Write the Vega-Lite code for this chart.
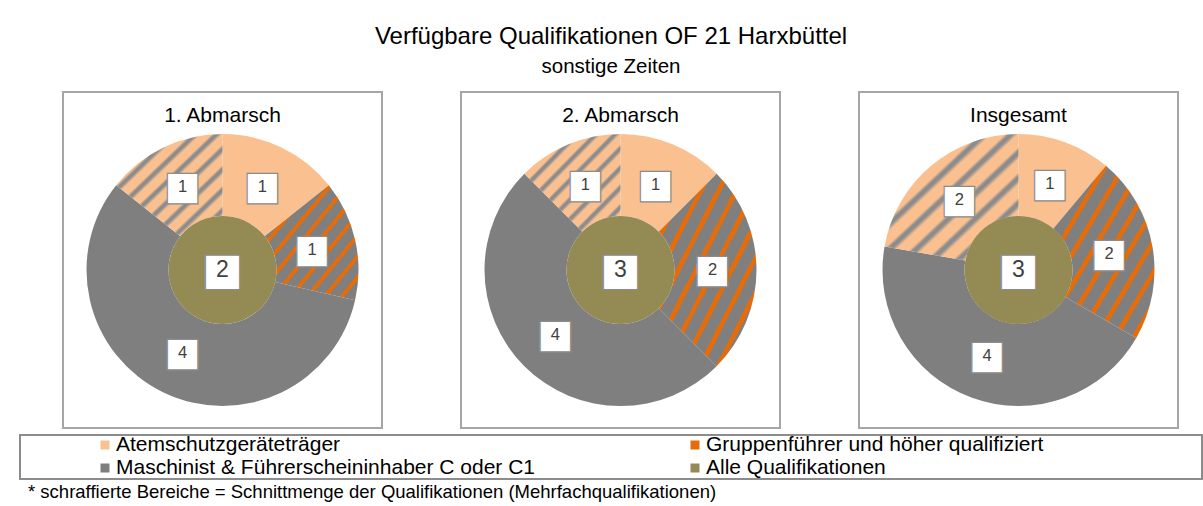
{
  "$schema": "https://vega.github.io/schema/vega-lite/v6.json",
  "padding": {"left": 19, "top": 24, "right": 0, "bottom": 0},
  "background": "#FFFFFF",
  "title": {
    "text": "Verfügbare Qualifikationen OF 21 Harxbüttel",
    "subtitle": "sonstige Zeiten",
    "fontSize": 24,
    "subtitleFontSize": 20.5,
    "subtitlePadding": 8,
    "font": "Liberation Sans",
    "subtitleFont": "Liberation Sans",
    "fontWeight": "normal",
    "color": "#000000",
    "subtitleColor": "#000000",
    "anchor": "middle",
    "offset": 14
  },
  "datasets": {
    "pies": [
      {"chart": "1. Abmarsch", "ring": "outer", "seg": "Atemschutzgeräteträger", "order": 1, "value": 1},
      {"chart": "1. Abmarsch", "ring": "outer", "seg": "Gruppenführer & Maschinist", "order": 2, "value": 1},
      {"chart": "1. Abmarsch", "ring": "outer", "seg": "Maschinist & Führerscheininhaber C oder C1", "order": 3, "value": 4},
      {"chart": "1. Abmarsch", "ring": "outer", "seg": "Atemschutzgeräteträger & Maschinist", "order": 4, "value": 1},
      {"chart": "1. Abmarsch", "ring": "center", "seg": "Alle Qualifikationen", "order": 5, "value": 2},
      {"chart": "2. Abmarsch", "ring": "outer", "seg": "Atemschutzgeräteträger", "order": 1, "value": 1},
      {"chart": "2. Abmarsch", "ring": "outer", "seg": "Gruppenführer & Maschinist", "order": 2, "value": 2},
      {"chart": "2. Abmarsch", "ring": "outer", "seg": "Maschinist & Führerscheininhaber C oder C1", "order": 3, "value": 4},
      {"chart": "2. Abmarsch", "ring": "outer", "seg": "Atemschutzgeräteträger & Maschinist", "order": 4, "value": 1},
      {"chart": "2. Abmarsch", "ring": "center", "seg": "Alle Qualifikationen", "order": 5, "value": 3},
      {"chart": "Insgesamt", "ring": "outer", "seg": "Atemschutzgeräteträger", "order": 1, "value": 1},
      {"chart": "Insgesamt", "ring": "outer", "seg": "Gruppenführer & Maschinist", "order": 2, "value": 2},
      {"chart": "Insgesamt", "ring": "outer", "seg": "Maschinist & Führerscheininhaber C oder C1", "order": 3, "value": 4},
      {"chart": "Insgesamt", "ring": "outer", "seg": "Atemschutzgeräteträger & Maschinist", "order": 4, "value": 2},
      {"chart": "Insgesamt", "ring": "center", "seg": "Alle Qualifikationen", "order": 5, "value": 3}
    ],
    "legend": [
      {"label": "Atemschutzgeräteträger", "col": 1, "row": 1},
      {"label": "Gruppenführer und höher qualifiziert", "col": 2, "row": 1},
      {"label": "Maschinist & Führerscheininhaber C oder C1", "col": 1, "row": 2},
      {"label": "Alle Qualifikationen", "col": 2, "row": 2}
    ]
  },
  "spacing": 4,
  "vconcat": [
    {
      "spacing": 0,
      "hconcat": [
        {
          "width": 42,
          "height": 336,
          "data": {"values": [{"spacer": 1}]},
          "mark": {"type": "point", "opacity": 0},
          "view": {"stroke": null}
        },
        {
          "spacing": 77,
          "hconcat": [
            {
              "width": 319,
              "height": 336,
              "view": {"stroke": "#A6A6A6", "strokeWidth": 2},
              "title": {"text": "1. Abmarsch", "offset": -34, "fontSize": 21, "fontWeight": "normal", "font": "Liberation Sans", "color": "#000000", "anchor": "middle"},
              "data": {"name": "pies"},
              "transform": [{"filter": "datum.chart === '1. Abmarsch'"}],
              "layer": [
                {
                  "transform": [{"filter": "datum.ring === 'outer'"}],
                  "mark": {"type": "arc", "outerRadius": 136, "innerRadius": 54, "yOffset": 10},
                  "encoding": {
                    "theta": {"field": "value", "type": "quantitative", "stack": "normalize"},
                    "order": {"field": "order", "type": "quantitative"},
                    "fill": {
                      "condition": [
                        {"test": "datum.seg === 'Atemschutzgeräteträger'", "value": "#FAC090"},
                        {"test": "datum.seg === 'Gruppenführer & Maschinist'", "value": {"gradient": "linear", "x1": 0, "y1": 0, "x2": 1, "y2": 1, "stops": [
                          {"offset": 0, "color": "#7F7F7F"}, {"offset": 0.0636, "color": "#7F7F7F"}, {"offset": 0.0636, "color": "#E46C0A"}, {"offset": 0.0909, "color": "#E46C0A"},
                          {"offset": 0.0909, "color": "#7F7F7F"}, {"offset": 0.1545, "color": "#7F7F7F"}, {"offset": 0.1545, "color": "#E46C0A"}, {"offset": 0.1818, "color": "#E46C0A"},
                          {"offset": 0.1818, "color": "#7F7F7F"}, {"offset": 0.2455, "color": "#7F7F7F"}, {"offset": 0.2455, "color": "#E46C0A"}, {"offset": 0.2727, "color": "#E46C0A"},
                          {"offset": 0.2727, "color": "#7F7F7F"}, {"offset": 0.3364, "color": "#7F7F7F"}, {"offset": 0.3364, "color": "#E46C0A"}, {"offset": 0.3636, "color": "#E46C0A"},
                          {"offset": 0.3636, "color": "#7F7F7F"}, {"offset": 0.4273, "color": "#7F7F7F"}, {"offset": 0.4273, "color": "#E46C0A"}, {"offset": 0.4545, "color": "#E46C0A"},
                          {"offset": 0.4545, "color": "#7F7F7F"}, {"offset": 0.5182, "color": "#7F7F7F"}, {"offset": 0.5182, "color": "#E46C0A"}, {"offset": 0.5455, "color": "#E46C0A"},
                          {"offset": 0.5455, "color": "#7F7F7F"}, {"offset": 0.6091, "color": "#7F7F7F"}, {"offset": 0.6091, "color": "#E46C0A"}, {"offset": 0.6364, "color": "#E46C0A"},
                          {"offset": 0.6364, "color": "#7F7F7F"}, {"offset": 0.7, "color": "#7F7F7F"}, {"offset": 0.7, "color": "#E46C0A"}, {"offset": 0.7273, "color": "#E46C0A"},
                          {"offset": 0.7273, "color": "#7F7F7F"}, {"offset": 0.7909, "color": "#7F7F7F"}, {"offset": 0.7909, "color": "#E46C0A"}, {"offset": 0.8182, "color": "#E46C0A"},
                          {"offset": 0.8182, "color": "#7F7F7F"}, {"offset": 0.8818, "color": "#7F7F7F"}, {"offset": 0.8818, "color": "#E46C0A"}, {"offset": 0.9091, "color": "#E46C0A"},
                          {"offset": 0.9091, "color": "#7F7F7F"}, {"offset": 0.9727, "color": "#7F7F7F"}, {"offset": 0.9727, "color": "#E46C0A"}, {"offset": 1, "color": "#E46C0A"}
                        ]}},
                        {"test": "datum.seg === 'Atemschutzgeräteträger & Maschinist'", "value": {"gradient": "linear", "x1": 0, "y1": 0, "x2": 1, "y2": 1, "stops": [
                          {"offset": 0, "color": "#FAC090"}, {"offset": 0.05, "color": "#FAC090"}, {"offset": 0.066, "color": "#8C8C8C"}, {"offset": 0.08, "color": "#8C8C8C"},
                          {"offset": 0.1, "color": "#FAC090"}, {"offset": 0.15, "color": "#FAC090"}, {"offset": 0.166, "color": "#8C8C8C"}, {"offset": 0.18, "color": "#8C8C8C"},
                          {"offset": 0.2, "color": "#FAC090"}, {"offset": 0.25, "color": "#FAC090"}, {"offset": 0.266, "color": "#8C8C8C"}, {"offset": 0.28, "color": "#8C8C8C"},
                          {"offset": 0.3, "color": "#FAC090"}, {"offset": 0.35, "color": "#FAC090"}, {"offset": 0.366, "color": "#8C8C8C"}, {"offset": 0.38, "color": "#8C8C8C"},
                          {"offset": 0.4, "color": "#FAC090"}, {"offset": 0.45, "color": "#FAC090"}, {"offset": 0.466, "color": "#8C8C8C"}, {"offset": 0.48, "color": "#8C8C8C"},
                          {"offset": 0.5, "color": "#FAC090"}, {"offset": 0.55, "color": "#FAC090"}, {"offset": 0.566, "color": "#8C8C8C"}, {"offset": 0.58, "color": "#8C8C8C"},
                          {"offset": 0.6, "color": "#FAC090"}, {"offset": 0.65, "color": "#FAC090"}, {"offset": 0.666, "color": "#8C8C8C"}, {"offset": 0.68, "color": "#8C8C8C"},
                          {"offset": 0.7, "color": "#FAC090"}, {"offset": 0.75, "color": "#FAC090"}, {"offset": 0.766, "color": "#8C8C8C"}, {"offset": 0.78, "color": "#8C8C8C"},
                          {"offset": 0.8, "color": "#FAC090"}, {"offset": 0.85, "color": "#FAC090"}, {"offset": 0.866, "color": "#8C8C8C"}, {"offset": 0.88, "color": "#8C8C8C"},
                          {"offset": 0.9, "color": "#FAC090"}, {"offset": 0.95, "color": "#FAC090"}, {"offset": 0.966, "color": "#8C8C8C"}, {"offset": 0.98, "color": "#8C8C8C"},
                          {"offset": 1, "color": "#FAC090"}
                        ]}}
                      ],
                      "value": "#7F7F7F"
                    }
                  }
                },
                {
                  "transform": [{"filter": "datum.ring === 'outer'"}],
                  "mark": {"type": "text", "text": "■", "radius": 92, "font": "DejaVu Sans", "fontSize": 40, "fill": "#FFFFFF", "stroke": "#8C8C8C", "strokeWidth": 1.2, "align": "center", "baseline": "middle", "yOffset": 10},
                  "encoding": {
                    "theta": {"field": "value", "type": "quantitative", "stack": "normalize"},
                    "order": {"field": "order", "type": "quantitative"}
                  }
                },
                {
                  "transform": [{"filter": "datum.ring === 'outer'"}],
                  "mark": {"type": "text", "radius": 92, "font": "Liberation Sans", "fontSize": 16.5, "color": "#404040", "align": "center", "baseline": "middle", "yOffset": 10},
                  "encoding": {
                    "theta": {"field": "value", "type": "quantitative", "stack": "normalize"},
                    "order": {"field": "order", "type": "quantitative"},
                    "text": {"field": "value", "type": "quantitative"}
                  }
                },
                {
                  "transform": [{"filter": "datum.ring === 'center'"}],
                  "mark": {"type": "arc", "outerRadius": 54, "innerRadius": 0, "theta": 0, "theta2": 6.2832, "fill": "#948A54", "yOffset": 10},
                  "encoding": {}
                },
                {
                  "transform": [{"filter": "datum.ring === 'center'"}],
                  "mark": {"type": "text", "text": "■", "font": "DejaVu Sans", "fontSize": 45, "fill": "#FFFFFF", "stroke": "#8C8C8C", "strokeWidth": 1.2, "align": "center", "baseline": "middle", "yOffset": 10},
                  "encoding": {}
                },
                {
                  "transform": [{"filter": "datum.ring === 'center'"}],
                  "mark": {"type": "text", "font": "Liberation Sans", "fontSize": 23, "color": "#404040", "align": "center", "baseline": "middle", "yOffset": 10},
                  "encoding": {"text": {"field": "value", "type": "quantitative"}}
                }
              ]
            },
            {
              "width": 319,
              "height": 336,
              "view": {"stroke": "#A6A6A6", "strokeWidth": 2},
              "title": {"text": "2. Abmarsch", "offset": -34, "fontSize": 21, "fontWeight": "normal", "font": "Liberation Sans", "color": "#000000", "anchor": "middle"},
              "data": {"name": "pies"},
              "transform": [{"filter": "datum.chart === '2. Abmarsch'"}],
              "layer": [
                {
                  "transform": [{"filter": "datum.ring === 'outer'"}],
                  "mark": {"type": "arc", "outerRadius": 136, "innerRadius": 54, "yOffset": 10},
                  "encoding": {
                    "theta": {"field": "value", "type": "quantitative", "stack": "normalize"},
                    "order": {"field": "order", "type": "quantitative"},
                    "fill": {
                      "condition": [
                        {"test": "datum.seg === 'Atemschutzgeräteträger'", "value": "#FAC090"},
                        {"test": "datum.seg === 'Gruppenführer & Maschinist'", "value": {"gradient": "linear", "x1": 0, "y1": 0, "x2": 1, "y2": 1, "stops": [
                          {"offset": 0, "color": "#7F7F7F"}, {"offset": 0.0636, "color": "#7F7F7F"}, {"offset": 0.0636, "color": "#E46C0A"}, {"offset": 0.0909, "color": "#E46C0A"},
                          {"offset": 0.0909, "color": "#7F7F7F"}, {"offset": 0.1545, "color": "#7F7F7F"}, {"offset": 0.1545, "color": "#E46C0A"}, {"offset": 0.1818, "color": "#E46C0A"},
                          {"offset": 0.1818, "color": "#7F7F7F"}, {"offset": 0.2455, "color": "#7F7F7F"}, {"offset": 0.2455, "color": "#E46C0A"}, {"offset": 0.2727, "color": "#E46C0A"},
                          {"offset": 0.2727, "color": "#7F7F7F"}, {"offset": 0.3364, "color": "#7F7F7F"}, {"offset": 0.3364, "color": "#E46C0A"}, {"offset": 0.3636, "color": "#E46C0A"},
                          {"offset": 0.3636, "color": "#7F7F7F"}, {"offset": 0.4273, "color": "#7F7F7F"}, {"offset": 0.4273, "color": "#E46C0A"}, {"offset": 0.4545, "color": "#E46C0A"},
                          {"offset": 0.4545, "color": "#7F7F7F"}, {"offset": 0.5182, "color": "#7F7F7F"}, {"offset": 0.5182, "color": "#E46C0A"}, {"offset": 0.5455, "color": "#E46C0A"},
                          {"offset": 0.5455, "color": "#7F7F7F"}, {"offset": 0.6091, "color": "#7F7F7F"}, {"offset": 0.6091, "color": "#E46C0A"}, {"offset": 0.6364, "color": "#E46C0A"},
                          {"offset": 0.6364, "color": "#7F7F7F"}, {"offset": 0.7, "color": "#7F7F7F"}, {"offset": 0.7, "color": "#E46C0A"}, {"offset": 0.7273, "color": "#E46C0A"},
                          {"offset": 0.7273, "color": "#7F7F7F"}, {"offset": 0.7909, "color": "#7F7F7F"}, {"offset": 0.7909, "color": "#E46C0A"}, {"offset": 0.8182, "color": "#E46C0A"},
                          {"offset": 0.8182, "color": "#7F7F7F"}, {"offset": 0.8818, "color": "#7F7F7F"}, {"offset": 0.8818, "color": "#E46C0A"}, {"offset": 0.9091, "color": "#E46C0A"},
                          {"offset": 0.9091, "color": "#7F7F7F"}, {"offset": 0.9727, "color": "#7F7F7F"}, {"offset": 0.9727, "color": "#E46C0A"}, {"offset": 1, "color": "#E46C0A"}
                        ]}},
                        {"test": "datum.seg === 'Atemschutzgeräteträger & Maschinist'", "value": {"gradient": "linear", "x1": 0, "y1": 0, "x2": 1, "y2": 1, "stops": [
                          {"offset": 0, "color": "#FAC090"}, {"offset": 0.05, "color": "#FAC090"}, {"offset": 0.066, "color": "#8C8C8C"}, {"offset": 0.08, "color": "#8C8C8C"},
                          {"offset": 0.1, "color": "#FAC090"}, {"offset": 0.15, "color": "#FAC090"}, {"offset": 0.166, "color": "#8C8C8C"}, {"offset": 0.18, "color": "#8C8C8C"},
                          {"offset": 0.2, "color": "#FAC090"}, {"offset": 0.25, "color": "#FAC090"}, {"offset": 0.266, "color": "#8C8C8C"}, {"offset": 0.28, "color": "#8C8C8C"},
                          {"offset": 0.3, "color": "#FAC090"}, {"offset": 0.35, "color": "#FAC090"}, {"offset": 0.366, "color": "#8C8C8C"}, {"offset": 0.38, "color": "#8C8C8C"},
                          {"offset": 0.4, "color": "#FAC090"}, {"offset": 0.45, "color": "#FAC090"}, {"offset": 0.466, "color": "#8C8C8C"}, {"offset": 0.48, "color": "#8C8C8C"},
                          {"offset": 0.5, "color": "#FAC090"}, {"offset": 0.55, "color": "#FAC090"}, {"offset": 0.566, "color": "#8C8C8C"}, {"offset": 0.58, "color": "#8C8C8C"},
                          {"offset": 0.6, "color": "#FAC090"}, {"offset": 0.65, "color": "#FAC090"}, {"offset": 0.666, "color": "#8C8C8C"}, {"offset": 0.68, "color": "#8C8C8C"},
                          {"offset": 0.7, "color": "#FAC090"}, {"offset": 0.75, "color": "#FAC090"}, {"offset": 0.766, "color": "#8C8C8C"}, {"offset": 0.78, "color": "#8C8C8C"},
                          {"offset": 0.8, "color": "#FAC090"}, {"offset": 0.85, "color": "#FAC090"}, {"offset": 0.866, "color": "#8C8C8C"}, {"offset": 0.88, "color": "#8C8C8C"},
                          {"offset": 0.9, "color": "#FAC090"}, {"offset": 0.95, "color": "#FAC090"}, {"offset": 0.966, "color": "#8C8C8C"}, {"offset": 0.98, "color": "#8C8C8C"},
                          {"offset": 1, "color": "#FAC090"}
                        ]}}
                      ],
                      "value": "#7F7F7F"
                    }
                  }
                },
                {
                  "transform": [{"filter": "datum.ring === 'outer'"}],
                  "mark": {"type": "text", "text": "■", "radius": 92, "font": "DejaVu Sans", "fontSize": 40, "fill": "#FFFFFF", "stroke": "#8C8C8C", "strokeWidth": 1.2, "align": "center", "baseline": "middle", "yOffset": 10},
                  "encoding": {
                    "theta": {"field": "value", "type": "quantitative", "stack": "normalize"},
                    "order": {"field": "order", "type": "quantitative"}
                  }
                },
                {
                  "transform": [{"filter": "datum.ring === 'outer'"}],
                  "mark": {"type": "text", "radius": 92, "font": "Liberation Sans", "fontSize": 16.5, "color": "#404040", "align": "center", "baseline": "middle", "yOffset": 10},
                  "encoding": {
                    "theta": {"field": "value", "type": "quantitative", "stack": "normalize"},
                    "order": {"field": "order", "type": "quantitative"},
                    "text": {"field": "value", "type": "quantitative"}
                  }
                },
                {
                  "transform": [{"filter": "datum.ring === 'center'"}],
                  "mark": {"type": "arc", "outerRadius": 54, "innerRadius": 0, "theta": 0, "theta2": 6.2832, "fill": "#948A54", "yOffset": 10},
                  "encoding": {}
                },
                {
                  "transform": [{"filter": "datum.ring === 'center'"}],
                  "mark": {"type": "text", "text": "■", "font": "DejaVu Sans", "fontSize": 45, "fill": "#FFFFFF", "stroke": "#8C8C8C", "strokeWidth": 1.2, "align": "center", "baseline": "middle", "yOffset": 10},
                  "encoding": {}
                },
                {
                  "transform": [{"filter": "datum.ring === 'center'"}],
                  "mark": {"type": "text", "font": "Liberation Sans", "fontSize": 23, "color": "#404040", "align": "center", "baseline": "middle", "yOffset": 10},
                  "encoding": {"text": {"field": "value", "type": "quantitative"}}
                }
              ]
            },
            {
              "width": 319,
              "height": 336,
              "view": {"stroke": "#A6A6A6", "strokeWidth": 2},
              "title": {"text": "Insgesamt", "offset": -34, "fontSize": 21, "fontWeight": "normal", "font": "Liberation Sans", "color": "#000000", "anchor": "middle"},
              "data": {"name": "pies"},
              "transform": [{"filter": "datum.chart === 'Insgesamt'"}],
              "layer": [
                {
                  "transform": [{"filter": "datum.ring === 'outer'"}],
                  "mark": {"type": "arc", "outerRadius": 136, "innerRadius": 54, "yOffset": 10},
                  "encoding": {
                    "theta": {"field": "value", "type": "quantitative", "stack": "normalize"},
                    "order": {"field": "order", "type": "quantitative"},
                    "fill": {
                      "condition": [
                        {"test": "datum.seg === 'Atemschutzgeräteträger'", "value": "#FAC090"},
                        {"test": "datum.seg === 'Gruppenführer & Maschinist'", "value": {"gradient": "linear", "x1": 0, "y1": 0, "x2": 1, "y2": 1, "stops": [
                          {"offset": 0, "color": "#7F7F7F"}, {"offset": 0.0636, "color": "#7F7F7F"}, {"offset": 0.0636, "color": "#E46C0A"}, {"offset": 0.0909, "color": "#E46C0A"},
                          {"offset": 0.0909, "color": "#7F7F7F"}, {"offset": 0.1545, "color": "#7F7F7F"}, {"offset": 0.1545, "color": "#E46C0A"}, {"offset": 0.1818, "color": "#E46C0A"},
                          {"offset": 0.1818, "color": "#7F7F7F"}, {"offset": 0.2455, "color": "#7F7F7F"}, {"offset": 0.2455, "color": "#E46C0A"}, {"offset": 0.2727, "color": "#E46C0A"},
                          {"offset": 0.2727, "color": "#7F7F7F"}, {"offset": 0.3364, "color": "#7F7F7F"}, {"offset": 0.3364, "color": "#E46C0A"}, {"offset": 0.3636, "color": "#E46C0A"},
                          {"offset": 0.3636, "color": "#7F7F7F"}, {"offset": 0.4273, "color": "#7F7F7F"}, {"offset": 0.4273, "color": "#E46C0A"}, {"offset": 0.4545, "color": "#E46C0A"},
                          {"offset": 0.4545, "color": "#7F7F7F"}, {"offset": 0.5182, "color": "#7F7F7F"}, {"offset": 0.5182, "color": "#E46C0A"}, {"offset": 0.5455, "color": "#E46C0A"},
                          {"offset": 0.5455, "color": "#7F7F7F"}, {"offset": 0.6091, "color": "#7F7F7F"}, {"offset": 0.6091, "color": "#E46C0A"}, {"offset": 0.6364, "color": "#E46C0A"},
                          {"offset": 0.6364, "color": "#7F7F7F"}, {"offset": 0.7, "color": "#7F7F7F"}, {"offset": 0.7, "color": "#E46C0A"}, {"offset": 0.7273, "color": "#E46C0A"},
                          {"offset": 0.7273, "color": "#7F7F7F"}, {"offset": 0.7909, "color": "#7F7F7F"}, {"offset": 0.7909, "color": "#E46C0A"}, {"offset": 0.8182, "color": "#E46C0A"},
                          {"offset": 0.8182, "color": "#7F7F7F"}, {"offset": 0.8818, "color": "#7F7F7F"}, {"offset": 0.8818, "color": "#E46C0A"}, {"offset": 0.9091, "color": "#E46C0A"},
                          {"offset": 0.9091, "color": "#7F7F7F"}, {"offset": 0.9727, "color": "#7F7F7F"}, {"offset": 0.9727, "color": "#E46C0A"}, {"offset": 1, "color": "#E46C0A"}
                        ]}},
                        {"test": "datum.seg === 'Atemschutzgeräteträger & Maschinist'", "value": {"gradient": "linear", "x1": 0, "y1": 0, "x2": 1, "y2": 1, "stops": [
                          {"offset": 0, "color": "#FAC090"}, {"offset": 0.05, "color": "#FAC090"}, {"offset": 0.066, "color": "#8C8C8C"}, {"offset": 0.08, "color": "#8C8C8C"},
                          {"offset": 0.1, "color": "#FAC090"}, {"offset": 0.15, "color": "#FAC090"}, {"offset": 0.166, "color": "#8C8C8C"}, {"offset": 0.18, "color": "#8C8C8C"},
                          {"offset": 0.2, "color": "#FAC090"}, {"offset": 0.25, "color": "#FAC090"}, {"offset": 0.266, "color": "#8C8C8C"}, {"offset": 0.28, "color": "#8C8C8C"},
                          {"offset": 0.3, "color": "#FAC090"}, {"offset": 0.35, "color": "#FAC090"}, {"offset": 0.366, "color": "#8C8C8C"}, {"offset": 0.38, "color": "#8C8C8C"},
                          {"offset": 0.4, "color": "#FAC090"}, {"offset": 0.45, "color": "#FAC090"}, {"offset": 0.466, "color": "#8C8C8C"}, {"offset": 0.48, "color": "#8C8C8C"},
                          {"offset": 0.5, "color": "#FAC090"}, {"offset": 0.55, "color": "#FAC090"}, {"offset": 0.566, "color": "#8C8C8C"}, {"offset": 0.58, "color": "#8C8C8C"},
                          {"offset": 0.6, "color": "#FAC090"}, {"offset": 0.65, "color": "#FAC090"}, {"offset": 0.666, "color": "#8C8C8C"}, {"offset": 0.68, "color": "#8C8C8C"},
                          {"offset": 0.7, "color": "#FAC090"}, {"offset": 0.75, "color": "#FAC090"}, {"offset": 0.766, "color": "#8C8C8C"}, {"offset": 0.78, "color": "#8C8C8C"},
                          {"offset": 0.8, "color": "#FAC090"}, {"offset": 0.85, "color": "#FAC090"}, {"offset": 0.866, "color": "#8C8C8C"}, {"offset": 0.88, "color": "#8C8C8C"},
                          {"offset": 0.9, "color": "#FAC090"}, {"offset": 0.95, "color": "#FAC090"}, {"offset": 0.966, "color": "#8C8C8C"}, {"offset": 0.98, "color": "#8C8C8C"},
                          {"offset": 1, "color": "#FAC090"}
                        ]}}
                      ],
                      "value": "#7F7F7F"
                    }
                  }
                },
                {
                  "transform": [{"filter": "datum.ring === 'outer'"}],
                  "mark": {"type": "text", "text": "■", "radius": 92, "font": "DejaVu Sans", "fontSize": 40, "fill": "#FFFFFF", "stroke": "#8C8C8C", "strokeWidth": 1.2, "align": "center", "baseline": "middle", "yOffset": 10},
                  "encoding": {
                    "theta": {"field": "value", "type": "quantitative", "stack": "normalize"},
                    "order": {"field": "order", "type": "quantitative"}
                  }
                },
                {
                  "transform": [{"filter": "datum.ring === 'outer'"}],
                  "mark": {"type": "text", "radius": 92, "font": "Liberation Sans", "fontSize": 16.5, "color": "#404040", "align": "center", "baseline": "middle", "yOffset": 10},
                  "encoding": {
                    "theta": {"field": "value", "type": "quantitative", "stack": "normalize"},
                    "order": {"field": "order", "type": "quantitative"},
                    "text": {"field": "value", "type": "quantitative"}
                  }
                },
                {
                  "transform": [{"filter": "datum.ring === 'center'"}],
                  "mark": {"type": "arc", "outerRadius": 54, "innerRadius": 0, "theta": 0, "theta2": 6.2832, "fill": "#948A54", "yOffset": 10},
                  "encoding": {}
                },
                {
                  "transform": [{"filter": "datum.ring === 'center'"}],
                  "mark": {"type": "text", "text": "■", "font": "DejaVu Sans", "fontSize": 45, "fill": "#FFFFFF", "stroke": "#8C8C8C", "strokeWidth": 1.2, "align": "center", "baseline": "middle", "yOffset": 10},
                  "encoding": {}
                },
                {
                  "transform": [{"filter": "datum.ring === 'center'"}],
                  "mark": {"type": "text", "font": "Liberation Sans", "fontSize": 23, "color": "#404040", "align": "center", "baseline": "middle", "yOffset": 10},
                  "encoding": {"text": {"field": "value", "type": "quantitative"}}
                }
              ]
            }
          ]
        }
      ]
    },
    {
      "width": 1182,
      "height": 44,
      "view": {"stroke": "#8C8C8C", "strokeWidth": 2},
      "data": {"name": "legend"},
      "title": {
        "text": "* schraffierte Bereiche = Schnittmenge der Qualifikationen (Mehrfachqualifikationen)",
        "orient": "bottom",
        "anchor": "start",
        "fontSize": 18.5,
        "fontWeight": "normal",
        "font": "Liberation Sans",
        "color": "#000000",
        "offset": 4,
        "dx": 8
      },
      "encoding": {
        "x": {"field": "col", "type": "ordinal", "scale": {"type": "point", "range": [85, 675], "padding": 0}, "axis": null},
        "y": {"field": "row", "type": "ordinal", "scale": {"type": "point", "range": [10, 33], "padding": 0}, "axis": null}
      },
      "layer": [
        {
          "mark": {"type": "square", "size": 81, "opacity": 1},
          "encoding": {
            "color": {
              "field": "label",
              "type": "nominal",
              "scale": {
                "domain": ["Atemschutzgeräteträger", "Gruppenführer und höher qualifiziert", "Maschinist & Führerscheininhaber C oder C1", "Alle Qualifikationen"],
                "range": ["#FAC090", "#E46C0A", "#7F7F7F", "#948A54"]
              },
              "legend": null
            }
          }
        },
        {
          "mark": {"type": "text", "align": "left", "baseline": "middle", "dx": 11, "fontSize": 21, "font": "Liberation Sans", "color": "#000000"},
          "encoding": {"text": {"field": "label", "type": "nominal"}}
        }
      ]
    }
  ],
  "config": {
    "font": "Liberation Sans"
  }
}
